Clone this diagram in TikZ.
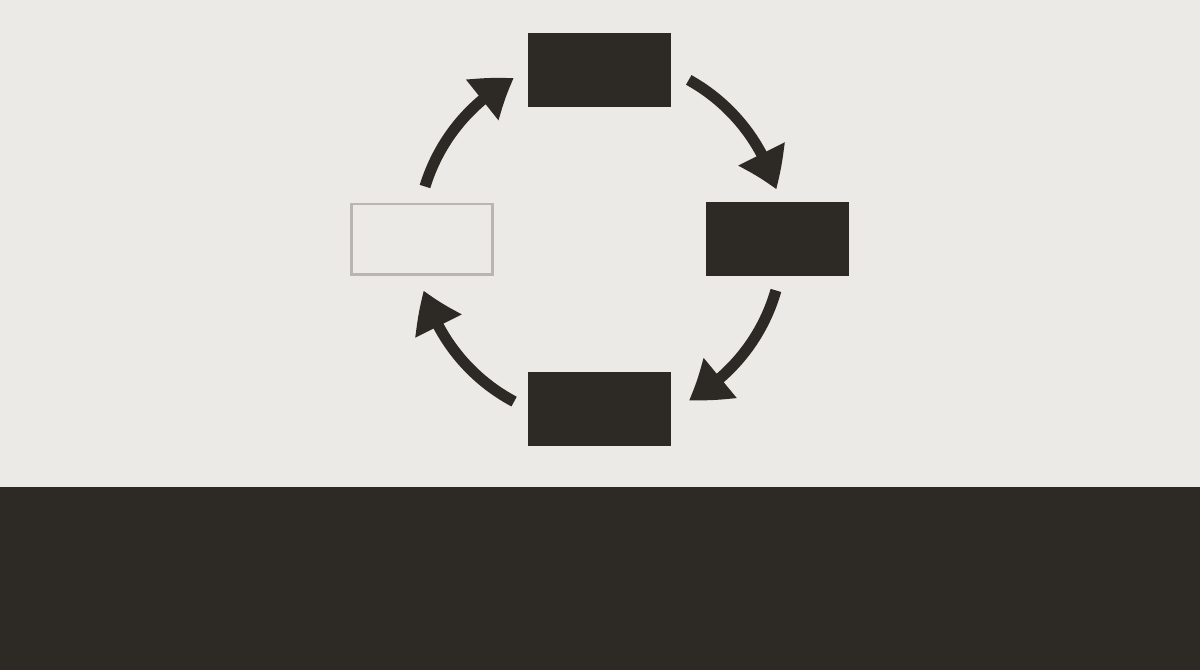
\documentclass[tikz,border=0pt]{standalone}
\usetikzlibrary{arrows.meta,calc,bending}
\definecolor{bgc}{HTML}{EBEAE6}
\definecolor{ink}{HTML}{2D2925}
\definecolor{ghost}{HTML}{B9B6B0}
\begin{document}
\begin{tikzpicture}[x=0.02cm,y=0.02cm,
  solidbox/.style={draw=none,fill=ink,minimum width=2.86cm,minimum height=1.48cm,inner sep=0pt},
  ghostbox/.style={draw=ghost,line width=1.7pt,fill=bgc,minimum width=2.82cm,minimum height=1.42cm,inner sep=0pt},
  cyclearrow/.style={draw=ink,line width=6.3pt,-{Triangle[length=22pt,width=28pt,bend]}}]
\fill[bgc] (0,0) rectangle (1200,670);
\useasboundingbox (0,0) rectangle (1200,670);
\fill[ink] (0,0) rectangle (1200,183);
\node[solidbox] (top) at (599.5,600) {};
\node[solidbox] (right) at (777.5,431) {};
\node[solidbox] (bottom) at (599.5,261) {};
\node[ghostbox] (left) at (422,430.5) {};
\coordinate (hub) at (600,430);
\coordinate (a1) at ($(hub)+(163:183)$);
\coordinate (a2) at ($(hub)+(61:183)$);
\coordinate (a3) at ($(hub)+(-16:183)$);
\coordinate (a4) at ($(hub)+(-118:183)$);
\draw[cyclearrow] (a1) arc[start angle=163,end angle=118,radius=183];
\draw[cyclearrow] (a2) arc[start angle=61,end angle=16,radius=183];
\draw[cyclearrow] (a3) arc[start angle=-16,end angle=-61,radius=183];
\draw[cyclearrow] (a4) arc[start angle=-118,end angle=-164,radius=183];
\end{tikzpicture}
\end{document}
